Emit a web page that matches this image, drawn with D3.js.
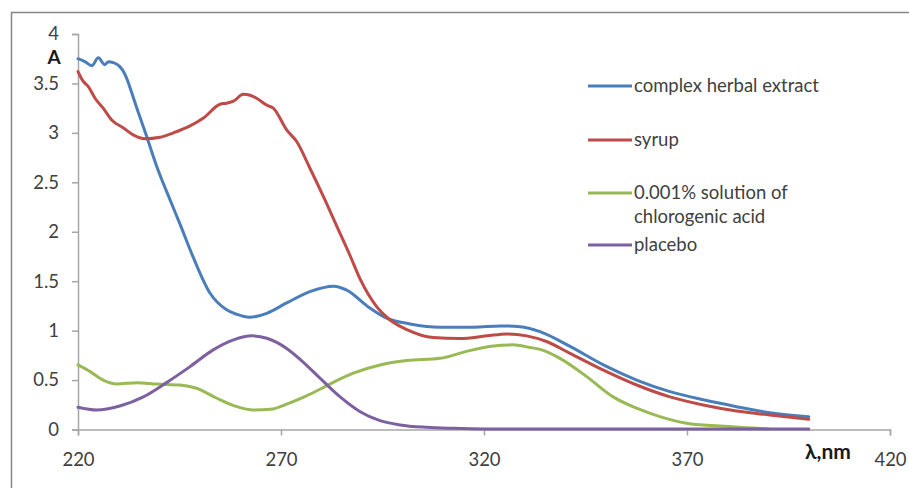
<!DOCTYPE html>
<html>
<head>
<meta charset="utf-8">
<script src="https://cdn.jsdelivr.net/npm/d3@7"></script>
<style>
  html, body { margin: 0; padding: 0; background: #ffffff; }
  svg { display: block; }
  text { font-family: Lato, "Open Sans", "Liberation Sans", sans-serif; }
</style>
</head>
<body>
<svg id="chart" width="909" height="488"></svg>
<script>
// ---- data ----
const xTicks = [220, 270, 320, 370, 420];
const yTicks = [0, 0.5, 1, 1.5, 2, 2.5, 3, 3.5, 4];
const seriesNames = ["complex herbal extract", "syrup", "0.001% solution of|chlorogenic acid", "placebo"];
const seriesColors = ["#4a7ebb", "#be4b48", "#98b954", "#7d60a0"];

const extractWl = [220, 221.7, 223.4, 225, 226.6, 227.5, 228.7, 230.3, 231.2, 232.2, 233.2, 234.5, 236.9, 239.4, 242.7, 245.1, 248.4, 252.5, 256.6, 259.1, 262.2, 266.5, 271.4, 277.1, 283, 286.2, 291.5, 296, 301.8, 309.2, 317.4, 324, 328.9, 333.8, 341.2, 349.4, 357.6, 365.8, 374, 382.2, 390.4, 400];
const extractA  = [3.75, 3.72, 3.68, 3.76, 3.69, 3.72, 3.71, 3.67, 3.62, 3.53, 3.41, 3.25, 2.965, 2.66, 2.32, 2.08, 1.74, 1.38, 1.21, 1.165, 1.135, 1.175, 1.28, 1.395, 1.45, 1.41, 1.24, 1.126, 1.068, 1.035, 1.035, 1.048, 1.04, 0.99, 0.84, 0.653, 0.50, 0.383, 0.30, 0.231, 0.17, 0.13];

const syrupWl = [220, 221.3, 222.5, 224.2, 226.2, 228.3, 231.2, 233.6, 236.5, 240.2, 243.5, 247.6, 250.9, 255, 256.6, 258.3, 260.7, 262.4, 264, 266.5, 268.1, 271.4, 273.9, 277.1, 280.4, 283.7, 287, 289.5, 293.6, 296.8, 301, 307.5, 314.1, 320.7, 325.6, 330.5, 335.4, 341.2, 349.4, 357.6, 365.8, 374, 382.2, 390.4, 400];
const syrupA  = [3.62, 3.52, 3.47, 3.35, 3.25, 3.13, 3.05, 2.98, 2.94, 2.955, 3.0, 3.07, 3.15, 3.29, 3.30, 3.32, 3.39, 3.38, 3.35, 3.28, 3.25, 3.03, 2.91, 2.645, 2.36, 2.06, 1.76, 1.52, 1.24, 1.11, 1.01, 0.93, 0.92, 0.947, 0.967, 0.947, 0.89, 0.77, 0.60, 0.45, 0.33, 0.248, 0.187, 0.147, 0.103];

const acidWl = [220, 223, 226.2, 229.5, 234.5, 239.4, 245.1, 249.2, 254.2, 259.1, 263.2, 267.3, 272.2, 276, 279.6, 283, 287.8, 294.4, 301, 309.2, 315.7, 322.3, 327, 331.3, 333.8, 338.7, 345.3, 351.8, 357.6, 363.3, 369.9, 378.1, 386.3, 390];
const acidA  = [0.653, 0.585, 0.50, 0.46, 0.474, 0.46, 0.45, 0.417, 0.316, 0.231, 0.197, 0.204, 0.27, 0.335, 0.407, 0.48, 0.57, 0.653, 0.697, 0.72, 0.79, 0.845, 0.856, 0.83, 0.81, 0.72, 0.535, 0.33, 0.215, 0.13, 0.063, 0.035, 0.015, 0.006];

const placeboWl = [220, 224.6, 230.3, 236.1, 241.8, 247.6, 253.3, 258.3, 262.8, 266.5, 271.4, 274.7, 279.6, 284.5, 289.5, 294.4, 299.3, 305.9, 312.4, 320, 400];
const placeboA  = [0.225, 0.197, 0.238, 0.33, 0.474, 0.636, 0.805, 0.906, 0.947, 0.923, 0.82, 0.71, 0.52, 0.332, 0.18, 0.089, 0.046, 0.022, 0.012, 0.006, 0.006];

const seriesWl = [extractWl, syrupWl, acidWl, placeboWl];
const seriesA = [extractA, syrupA, acidA, placeboA];

// ---- drawing ----
const svg = d3.select("#chart");

// outer chart frame
svg.append("rect")
  .attr("x", 11.5).attr("y", 12.5)
  .attr("width", 920).attr("height", 500)
  .attr("fill", "#ffffff")
  .attr("stroke", "#868686").attr("stroke-width", 1.5);

const x = d3.scaleLinear().domain([220, 420]).range([78, 890]);
const y = d3.scaleLinear().domain([0, 4]).range([429.5, 34]);

const axisColor = "#a6a6a6";
const textColor = "#404040";
const fontStack = "Lato, 'Open Sans', sans-serif";

// x axis
const gx = svg.append("g").attr("transform", `translate(0,${y(0)})`)
  .call(d3.axisBottom(x).tickValues(xTicks).tickSize(6).tickPadding(17).tickFormat(d => String(d)));
// y axis
const gy = svg.append("g").attr("transform", `translate(${x(220)},0)`)
  .call(d3.axisLeft(y).tickValues(yTicks).tickSize(6).tickPadding(13).tickFormat(d => String(d)));

[gx, gy].forEach(g => {
  g.select(".domain").attr("stroke", axisColor).attr("stroke-width", 1.5);
  g.selectAll(".tick line").attr("stroke", axisColor).attr("stroke-width", 1.5);
  g.selectAll(".tick text").attr("fill", textColor)
    .style("font-family", fontStack).style("font-size", "18.5px");
});

// axis titles
svg.append("text").attr("x", 54).attr("y", 57).attr("dy", "0.35em")
  .attr("text-anchor", "middle").attr("font-weight", "bold").attr("font-size", 19)
  .attr("fill", "#1a1a1a").text("A");
svg.append("text").attr("x", 828).attr("y", 452).attr("dy", "0.35em")
  .attr("text-anchor", "middle").attr("font-weight", "bold").attr("font-size", 21)
  .attr("fill", "#1a1a1a").text("λ,nm");

// series lines
const line = d3.line()
  .x(d => x(d[0])).y(d => y(d[1]))
  .curve(d3.curveMonotoneX);

seriesWl.forEach((wl, i) => {
  const pts = wl.map((w, k) => [w, seriesA[i][k]]);
  svg.append("path")
    .datum(pts)
    .attr("d", line)
    .attr("fill", "none")
    .attr("stroke", seriesColors[i])
    .attr("stroke-width", 3)
    .attr("stroke-linejoin", "round")
    .attr("stroke-linecap", "round");
});

// legend
const legendY = [86, 140, 193, 245];
const legend = svg.append("g");
seriesNames.forEach((name, i) => {
  legend.append("line")
    .attr("x1", 588).attr("x2", 632)
    .attr("y1", legendY[i]).attr("y2", legendY[i])
    .attr("stroke", seriesColors[i]).attr("stroke-width", 3);
  const t = legend.append("text")
    .attr("x", 634).attr("y", legendY[i])
    .attr("font-size", 18.5).attr("fill", textColor);
  name.split("|").forEach((part, k) => {
    t.append("tspan").attr("x", 634).attr("dy", k === 0 ? "0.35em" : "1.28em").text(part);
  });
});
</script>
</body>
</html>
